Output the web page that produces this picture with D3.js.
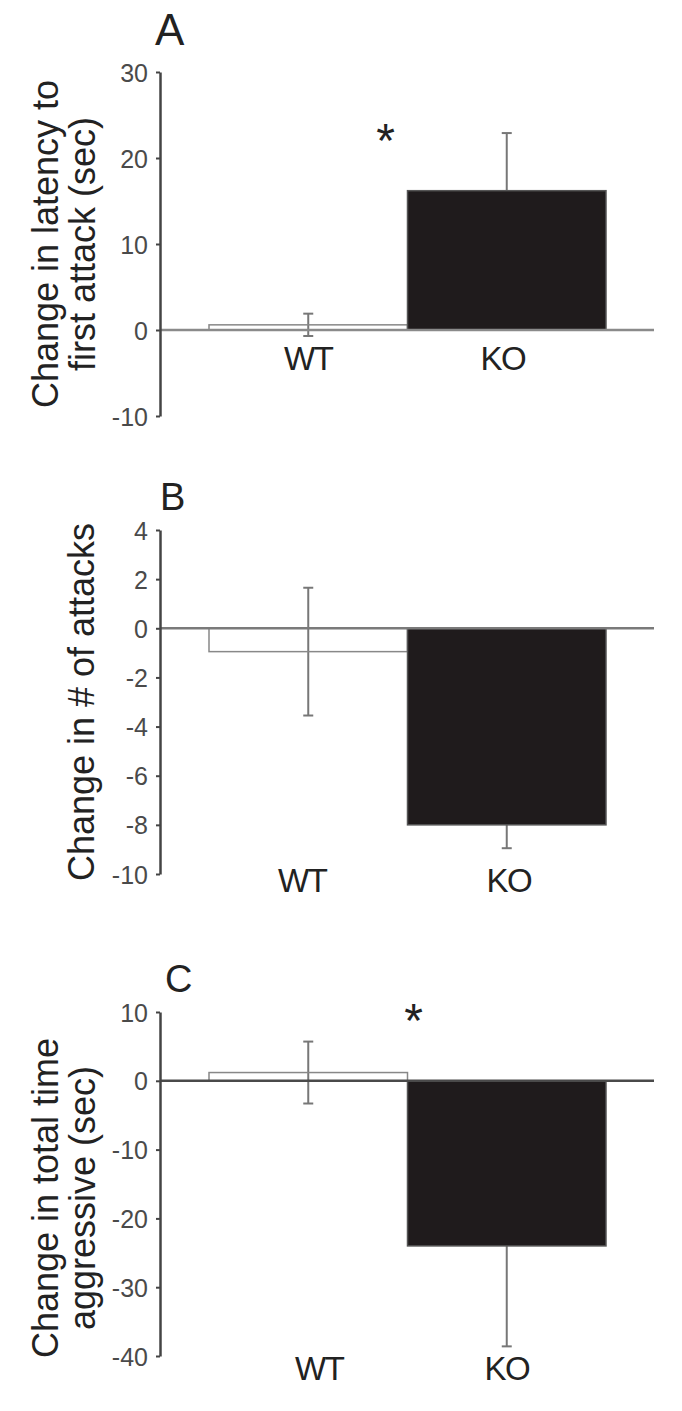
<!DOCTYPE html>
<html lang="en">
<head>
  <meta charset="UTF-8">
  <title>WT vs KO aggression change</title>
  <style>
    body {
      margin: 0;
      background: #fff;
      font-family: 'Liberation Sans', Arial, sans-serif;
    }
    svg { display: block; }
    .tick text { fill: #4a4a4a; font-size: 25px; }
    .ytitle { fill: #222; font-size: 36px; }
    .group-label { fill: #222; font-size: 33px; letter-spacing: -1.5px; }
    .panel-letter { fill: #222; }
  </style>
</head>
<body>
<svg></svg>

<script src="https://d3js.org/d3.v7.min.js"></script>
<script>
// ---- data ----
const groups = ["WT", "KO"];
const panelLetters = ["A", "B", "C"];
const yTitles = [
  ["Change in latency to", "first attack (sec)"],
  ["Change in # of attacks"],
  ["Change in total time", "aggressive (sec)"]
];
const yDomains = [[-10, 30], [-10, 4], [-40, 10]];
const yTicks = [
  [-10, 0, 10, 20, 30],
  [-10, -8, -6, -4, -2, 0, 2, 4],
  [-40, -30, -20, -10, 0, 10]
];
const latencyMean = [0.6, 16.2];
const latencyErr = [1.3, 6.7];
const attacksMean = [-0.95, -8.0];
const attacksErr = [2.6, 0.95];
const aggressiveMean = [1.2, -24.0];
const aggressiveErr = [4.5, 14.6];
const starValue = [22.5, null, 9.3];   // significance marks (null = none)

const means = [latencyMean, attacksMean, aggressiveMean];
const errs = [latencyErr, attacksErr, aggressiveErr];

// ---- layout ----
const width = 682, height = 1411;
const axisX = 160;
const panelTop = [72, 530, 1012];
const panelH = 344;
const lineEnd = 654;
const letterPos = [[155, 45, 44], [160, 510, 38], [165, 992, 38]];
const titleX = [58, 94, 58];
const titleDy = [0, 0, 14];
const labelY = [370, 892, 1380];
const labelDx = [[0, -4], [-6, 2], [11, 0]];
const starDx = [-22, 0, 6];
const zeroColor = ["#8a8a8a", "#7a7a7a", "#4a4a4a"];

const svg = d3.select("svg").attr("width", width).attr("height", height);

const x = d3.scaleBand().domain(groups).range([209, 606]).padding(0);

panelLetters.forEach((letter, i) => {
  const g = svg.append("g");
  const y = d3.scaleLinear()
    .domain(yDomains[i])
    .range([panelTop[i] + panelH, panelTop[i]]);
  const rows = groups.map((k, j) => ({ key: k, mean: means[i][j], err: errs[i][j] }));

  // error bars (drawn first so the black bar hides the inner half)
  const eb = g.append("g").attr("stroke", "#777").attr("stroke-width", 2);
  rows.forEach(d => {
    const cx = x(d.key) + x.bandwidth() / 2;
    const top = y(d.mean + d.err), bot = y(d.mean - d.err);
    eb.append("line").attr("x1", cx).attr("x2", cx).attr("y1", top).attr("y2", bot);
    eb.append("line").attr("x1", cx - 5).attr("x2", cx + 5).attr("y1", top).attr("y2", top);
    eb.append("line").attr("x1", cx - 5).attr("x2", cx + 5).attr("y1", bot).attr("y2", bot);
  });

  // bars
  g.append("g")
    .selectAll("rect")
    .data(rows)
    .join("rect")
    .attr("x", d => x(d.key))
    .attr("width", x.bandwidth())
    .attr("y", d => y(Math.max(0, d.mean)))
    .attr("height", d => Math.abs(y(d.mean) - y(0)))
    .attr("fill", d => d.key === "KO" ? "#1f1b1c" : "none")
    .attr("stroke", d => d.key === "KO" ? "#555" : "#888")
    .attr("stroke-width", 1.5);

  // zero line
  g.append("line")
    .attr("x1", axisX).attr("x2", lineEnd)
    .attr("y1", y(0)).attr("y2", y(0))
    .attr("stroke", zeroColor[i])
    .attr("stroke-width", 2.5);

  // y axis (hyphen minus, as in the original figure)
  const ax = g.append("g")
    .attr("transform", `translate(${axisX},0)`)
    .call(d3.axisLeft(y)
      .tickValues(yTicks[i])
      .tickFormat(d => String(d))
      .tickSize(4).tickSizeOuter(0).tickPadding(8));
  ax.select(".domain").attr("stroke", "#444").attr("stroke-width", 2.5);
  ax.selectAll(".tick line").attr("stroke", "#444").attr("stroke-width", 2);
  ax.selectAll(".tick text").attr("font-family", null).attr("font-size", null);
  g.selectAll(".tick text").attr("dy", "0.36em");
  ax.attr("font-family", null).attr("font-size", null);

  // y title
  const t = g.append("text")
    .attr("class", "ytitle")
    .attr("text-anchor", "middle")
    .attr("transform", `translate(${titleX[i]},${panelTop[i] + panelH / 2 + titleDy[i]}) rotate(-90)`);
  yTitles[i].forEach((line, k) => {
    t.append("tspan").attr("x", 0).attr("y", k * 37).text(line);
  });

  // group labels
  g.selectAll(".group-label")
    .data(groups)
    .join("text")
    .attr("class", "group-label")
    .attr("text-anchor", "middle")
    .attr("x", (d, j) => x(d) + x.bandwidth() / 2 + labelDx[i][j])
    .attr("y", labelY[i])
    .text(d => d);

  // panel letter
  g.append("text")
    .attr("class", "panel-letter")
    .attr("x", letterPos[i][0])
    .attr("y", letterPos[i][1])
    .attr("font-size", letterPos[i][2])
    .text(letter);

  // significance star
  if (starValue[i] !== null) {
    g.append("text")
      .attr("x", x("KO") + starDx[i])
      .attr("y", y(starValue[i]) + 20)
      .attr("text-anchor", "middle")
      .attr("font-size", 48)
      .attr("fill", "#222")
      .text("*");
  }
});
</script>
</body>
</html>
